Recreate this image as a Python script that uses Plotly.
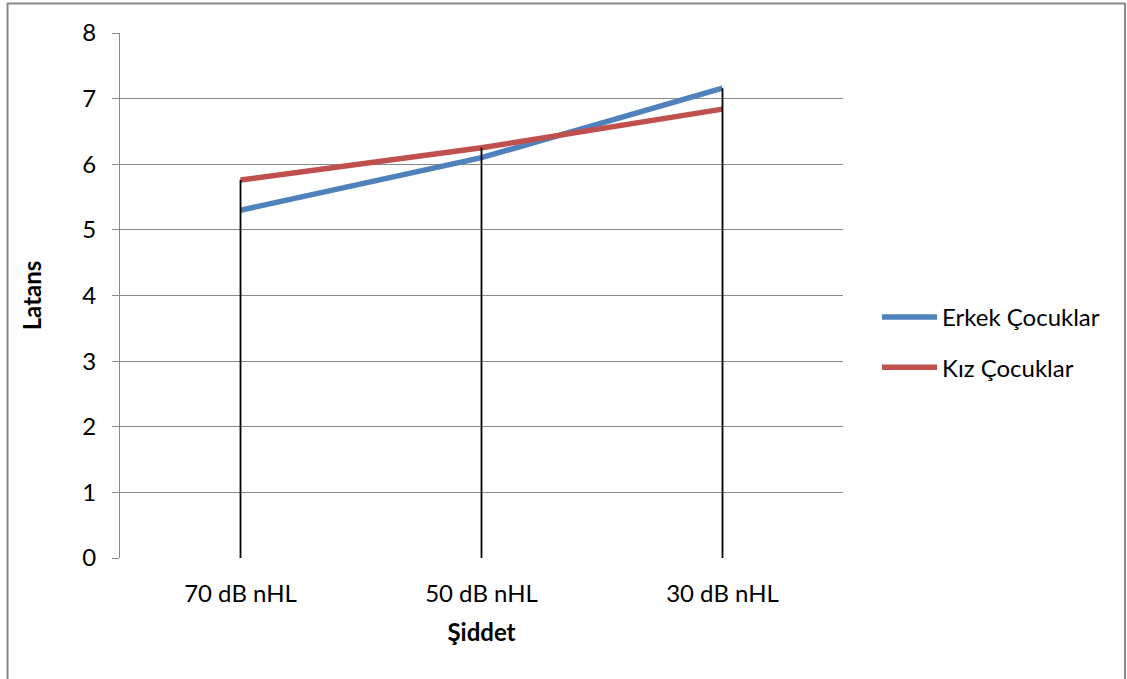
import plotly.graph_objects as go

categories = ["70 dB nHL", "50 dB nHL", "30 dB nHL"]
erkek = [5.30, 6.10, 7.16]
kiz = [5.76, 6.25, 6.84]
y_ticks = [0, 1, 2, 3, 4, 5, 6, 7, 8]

FONT = "Lato, 'Open Sans', sans-serif"

fig = go.Figure()
fig.add_trace(go.Scatter(x=categories, y=erkek, mode="lines", name="Erkek Çocuklar",
                         legendgroup="a", line=dict(color="#4F81BD", width=5.5)))
fig.add_trace(go.Scatter(x=categories, y=kiz, mode="lines", name="Kız Çocuklar",
                         legendgroup="b", line=dict(color="#C0504D", width=5.5)))

# drop lines from the highest series value down to the axis
dx, dy = [], []
for c, a, b in zip(categories, erkek, kiz):
    dx += [c, c, None]
    dy += [0, max(a, b), None]
fig.add_trace(go.Scatter(x=dx, y=dy, mode="lines", showlegend=False, hoverinfo="skip",
                         line=dict(color="black", width=1.8)))

W, H = 1127, 679
L, R, T, B = 120, 843, 33, 558
pw, ph = R - L, B - T

def px(x):
    return (x - L) / pw

def py(y):
    return (B - y) / ph

fig.update_layout(
    width=W, height=H,
    margin=dict(l=L, r=W - R, t=T, b=H - B),
    paper_bgcolor="white", plot_bgcolor="white",
    font=dict(family=FONT, size=24, color="black"),
    showlegend=True,
    legend=dict(x=px(877), y=py(342.5), xanchor="left", yanchor="middle",
                font=dict(size=24), tracegroupgap=16, itemwidth=55,
                bgcolor="rgba(0,0,0,0)"),
    xaxis=dict(type="category", range=[-0.5, 2.5], showgrid=False, zeroline=False,
               showline=False, ticks="", tickfont=dict(size=24),
               ticklabelstandoff=19,
               title=dict(text="<b>Şiddet</b>", font=dict(size=24), standoff=18)),
    yaxis=dict(range=[0, 8], tickvals=y_ticks, showgrid=True, gridcolor="#888888",
               gridwidth=1.3, zeroline=False, showline=True, linecolor="#888888",
               linewidth=1.3, ticks="outside", ticklen=7, tickcolor="#888888",
               tickwidth=1.3, tickfont=dict(size=24), ticklabelstandoff=11,
               title=dict(text="<b>Latans</b>", font=dict(size=24), standoff=33)),
    shapes=[dict(type="rect", xref="paper", yref="paper",
                 x0=px(7.5), x1=px(1125), y0=py(720), y1=py(3.5),
                 line=dict(color="#888888", width=2), layer="below")],
)

fig.write_html("out.html", config={"displayModeBar": False},
               post_script="document.body.style.margin='0';document.body.style.overflow='hidden';")
